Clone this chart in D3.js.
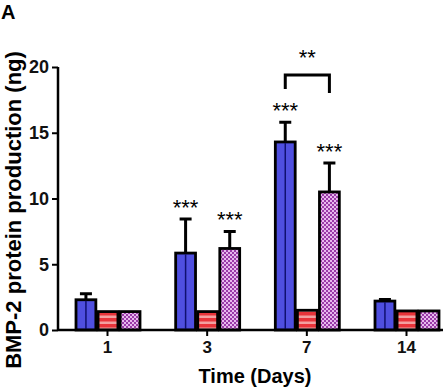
<!DOCTYPE html>
<html>
<head>
<meta charset="utf-8">
<script src="https://cdn.jsdelivr.net/npm/d3@7"></script>
<style>
body { margin: 0; background: #fff; }
text { font-family: "Liberation Sans", Arial, sans-serif; font-weight: bold; }
</style>
</head>
<body>
<div class="container"></div>
<script>
const wd = 443
const ht = 388

// data
const days = ["1", "3", "7", "14"]
const groups = ["blue", "red", "purple"]
const blueVals = [2.3, 5.85, 14.3, 2.2]
const blueErr = [0.45, 2.6, 1.5, 0.12]
const redVals = [1.4, 1.4, 1.5, 1.45]
const redErr = [0, 0, 0, 0]
const purpleVals = [1.4, 6.2, 10.5, 1.45]
const purpleErr = [0, 1.3, 2.2, 0]
const yTicks = [0, 5, 10, 15, 20]
// stars: [day index, group index, label]
const stars = [[1, 0, "***"], [1, 2, "***"], [2, 0, "***"], [2, 2, "***"]]

const svgC = d3.select(".container")
.append("svg")
.attr("height", ht)
.attr("width", wd)

const defs = svgC.append("defs")

// red horizontal stripes
const pRed = defs.append("pattern")
.attr("id", "stripes")
.attr("patternUnits", "userSpaceOnUse")
.attr("width", 6).attr("height", 6)
pRed.append("rect").attr("width", 6).attr("height", 6).attr("fill", "#f2a0a0")
pRed.append("rect").attr("width", 6).attr("height", 3.5).attr("fill", "#e8343a")

// purple checkers
const pPur = defs.append("pattern")
.attr("id", "checks")
.attr("patternUnits", "userSpaceOnUse")
.attr("width", 4).attr("height", 4)
pPur.append("rect").attr("width", 4).attr("height", 4).attr("fill", "#e8b8ee")
pPur.append("rect").attr("width", 2).attr("height", 2).attr("fill", "#9a3aa8")
pPur.append("rect").attr("x", 2).attr("y", 2).attr("width", 2).attr("height", 2).attr("fill", "#9a3aa8")

const mLeft = 58, mBottom = 330, mTop = 67

const y = d3.scaleLinear().domain([0, 20]).range([mBottom, mTop])
const x = d3.scalePoint().domain(days).range([107, 406])
const xs = d3.scaleBand().domain(groups).range([-31, 33]).paddingInner(0.1)

const rows = []
days.forEach((d, i) => {
    rows.push({day: d, g: "blue", v: blueVals[i], e: blueErr[i]})
    rows.push({day: d, g: "red", v: redVals[i], e: redErr[i]})
    rows.push({day: d, g: "purple", v: purpleVals[i], e: purpleErr[i]})
})

const fills = {blue: "#4f4fe0", red: "url(#stripes)", purple: "url(#checks)"}

// error bars first (behind bars)
const errs = rows.filter(d => d.e > 0)
svgC.selectAll(".err")
.data(errs)
.enter()
.append("path")
.attr("d", d => {
    const cx = x(d.day) + xs(d.g) + xs.bandwidth() / 2
    const y0 = y(d.v), y1 = y(d.v + d.e)
    return "M" + cx + "," + y0 + "V" + y1 + "M" + (cx - 6) + "," + y1 + "H" + (cx + 6)
})
.attr("fill", "none")
.style("stroke", "black")
.style("stroke-width", "3px")

svgC.selectAll(".bar")
.data(rows)
.enter()
.append("rect")
.attr("x", d => x(d.day) + xs(d.g))
.attr("y", d => y(d.v))
.attr("width", xs.bandwidth())
.attr("height", d => mBottom - y(d.v))
.attr("fill", d => fills[d.g])
.style("stroke", "black")
.style("stroke-width", "2.8px")

// blue bars have a dark centre line
svgC.selectAll(".mid")
.data(rows.filter(d => d.g == "blue"))
.enter()
.append("line")
.attr("x1", d => x(d.day) + xs(d.g) + xs.bandwidth() / 2)
.attr("x2", d => x(d.day) + xs(d.g) + xs.bandwidth() / 2)
.attr("y1", d => y(d.v) + 1)
.attr("y2", mBottom)
.style("stroke", "#101070")
.style("stroke-width", "1.5px")

// axes
const yAxis = svgC.append("g")
.attr("transform", "translate(" + mLeft + ",0)")
.call(d3.axisLeft(y).tickValues(yTicks).tickSize(6).tickPadding(3))
yAxis.select(".domain").attr("stroke-width", 2.5).attr("d", "M0," + mTop + "V" + mBottom)
yAxis.selectAll(".tick line").attr("stroke-width", 2)
yAxis.selectAll("text").style("font-size", "18px").attr("fill", "#111")

const xAxis = svgC.append("g")
.attr("transform", "translate(0," + mBottom + ")")
.call(d3.axisBottom(x).tickSize(6).tickPadding(5))
xAxis.select(".domain").attr("stroke-width", 2.5).attr("d", "M" + mLeft + ",0H" + wd)
xAxis.selectAll(".tick line").attr("stroke-width", 2)
xAxis.selectAll("text").style("font-size", "17px").attr("fill", "#111")

// stars
svgC.selectAll(".star")
.data(stars)
.enter()
.append("text")
.attr("x", d => x(days[d[0]]) + xs(groups[d[1]]) + xs.bandwidth() / 2)
.attr("y", d => {
    const v = d[1] == 0 ? blueVals[d[0]] + blueErr[d[0]] : purpleVals[d[0]] + purpleErr[d[0]]
    return y(v) - 4
})
.attr("text-anchor", "middle")
.style("font-size", "22px")
.style("font-weight", "normal")
.text(d => d[2])

// bracket between day 7 blue and purple
const bx1 = x("7") + xs("blue") + xs.bandwidth() / 2
const bx2 = x("7") + xs("purple") + xs.bandwidth() / 2
svgC.append("path")
.attr("d", "M" + bx1 + ",89V75H" + bx2 + "V93")
.attr("fill", "none")
.style("stroke", "black")
.style("stroke-width", "3px")
svgC.append("text")
.attr("x", (bx1 + bx2) / 2)
.attr("y", 65)
.attr("text-anchor", "middle")
.style("font-size", "22px")
.style("font-weight", "normal")
.text("**")

// labels
svgC.append("text")
.attr("x", 255)
.attr("y", 383)
.attr("text-anchor", "middle")
.style("font-size", "20px")
.text("Time (Days)")

svgC.append("text")
.attr("transform", "translate(20.5,210) rotate(-90)")
.attr("text-anchor", "middle")
.style("font-size", "22px")
.text("BMP-2 protein production (ng)")

svgC.append("text")
.attr("x", 1)
.attr("y", 19)
.style("font-size", "20px")
.text("A")
</script>
</body>
</html>
